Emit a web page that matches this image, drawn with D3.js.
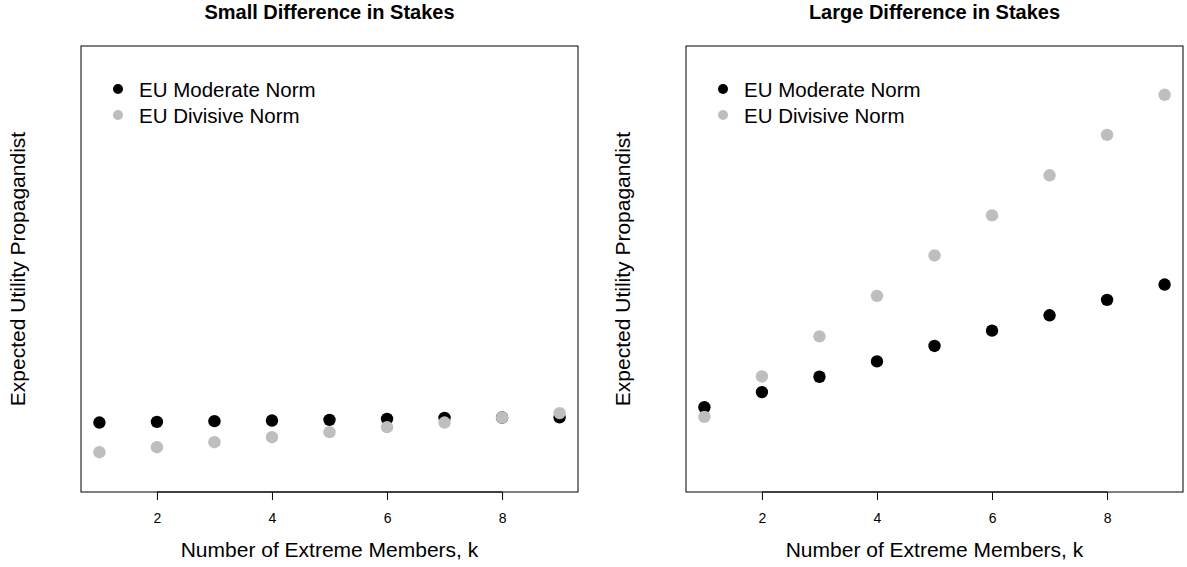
<!DOCTYPE html>
<html>
<head>
<meta charset="utf-8">
<script src="https://cdn.jsdelivr.net/npm/d3@7"></script>
<style>
  html, body { margin: 0; padding: 0; background: #fff; }
  svg { display: block; font-family: "Liberation Sans", Arial, sans-serif; }
</style>
</head>
<body>
<svg id="chart" width="1187" height="567"></svg>
<script>
// ---- data ----
const k = [1, 2, 3, 4, 5, 6, 7, 8, 9];
const xTicks = [2, 4, 6, 8];
const panelTitles = ["Small Difference in Stakes", "Large Difference in Stakes"];
const seriesNames = ["EU Moderate Norm", "EU Divisive Norm"];
const seriesColors = ["#000000", "#bebebe"];
// Small difference panel (arbitrary utility units)
const smallModerate = [1.557, 1.573, 1.589, 1.602, 1.618, 1.640, 1.663, 1.670, 1.674];
const smallDivisive = [0.892, 1.004, 1.117, 1.229, 1.342, 1.454, 1.557, 1.670, 1.769];
// Large difference panel
const largeModerate = [1.903, 2.240, 2.584, 2.928, 3.274, 3.618, 3.962, 4.308, 4.652];
const largeDivisive = [1.685, 2.591, 3.490, 4.398, 5.303, 6.202, 7.101, 8.007, 8.906];
const yDomain = [0, 10];
const xLabel = "Number of Extreme Members, k";
const yLabel = "Expected Utility Propagandist";

(function () {
  const panels = [
    { title: panelTitles[0], series: [smallModerate, smallDivisive], left: 81 },
    { title: panelTitles[1], series: [largeModerate, largeDivisive], left: 686 }
  ];

  const svg = d3.select("#chart");
  const boxW = 497, boxTop = 46, boxBottom = 492;

  panels.forEach(p => {
    const x = d3.scaleLinear().domain([0.68, 9.32]).range([p.left, p.left + boxW]);
    const y = d3.scaleLinear().domain(yDomain).range([boxBottom, boxTop]);
    const g = svg.append("g");

    // box
    g.append("rect")
      .attr("x", p.left).attr("y", boxTop)
      .attr("width", boxW).attr("height", boxBottom - boxTop)
      .attr("fill", "none").attr("stroke", "#000").attr("stroke-width", 1);

    // x axis
    const ax = g.append("g").attr("transform", `translate(0,${boxBottom})`)
      .call(d3.axisBottom(x).tickValues(xTicks).tickSize(8).tickPadding(13).tickFormat(d3.format("d")));
    ax.select(".domain").attr("d", `M${x(xTicks[0])},0H${x(xTicks[xTicks.length-1])}`).attr("stroke", "#000");
    ax.selectAll(".tick line").attr("stroke", "#000");
    ax.selectAll(".tick text").attr("font-size", 14).attr("fill", "#000")
      .attr("font-family", "Liberation Sans, Arial, sans-serif");

    // title
    g.append("text").attr("x", p.left + boxW / 2).attr("y", 18.5)
      .attr("text-anchor", "middle").attr("font-weight", "bold").attr("font-size", 20)
      .text(p.title);

    // x label
    g.append("text").attr("x", p.left + boxW / 2).attr("y", 557)
      .attr("text-anchor", "middle").attr("font-size", 21).text(xLabel);

    // y label
    g.append("text")
      .attr("transform", `translate(${p.left - 56},${(boxTop + boxBottom) / 2}) rotate(-90)`)
      .attr("text-anchor", "middle").attr("font-size", 21).text(yLabel);

    // points
    p.series.forEach((vals, si) => {
      g.append("g").selectAll("circle").data(k).join("circle")
        .attr("cx", d => x(d))
        .attr("cy", (d, i) => y(vals[i]))
        .attr("r", 6.2)
        .attr("fill", seriesColors[si]);
    });

    // legend
    seriesNames.forEach((name, si) => {
      const ly = 89 + si * 26;
      g.append("circle").attr("cx", p.left + 37).attr("cy", ly).attr("r", 5)
        .attr("fill", seriesColors[si]);
      g.append("text").attr("x", p.left + 58).attr("y", ly + 7.5)
        .attr("font-size", 20.5).text(name);
    });
  });
})();
</script>
</body>
</html>
